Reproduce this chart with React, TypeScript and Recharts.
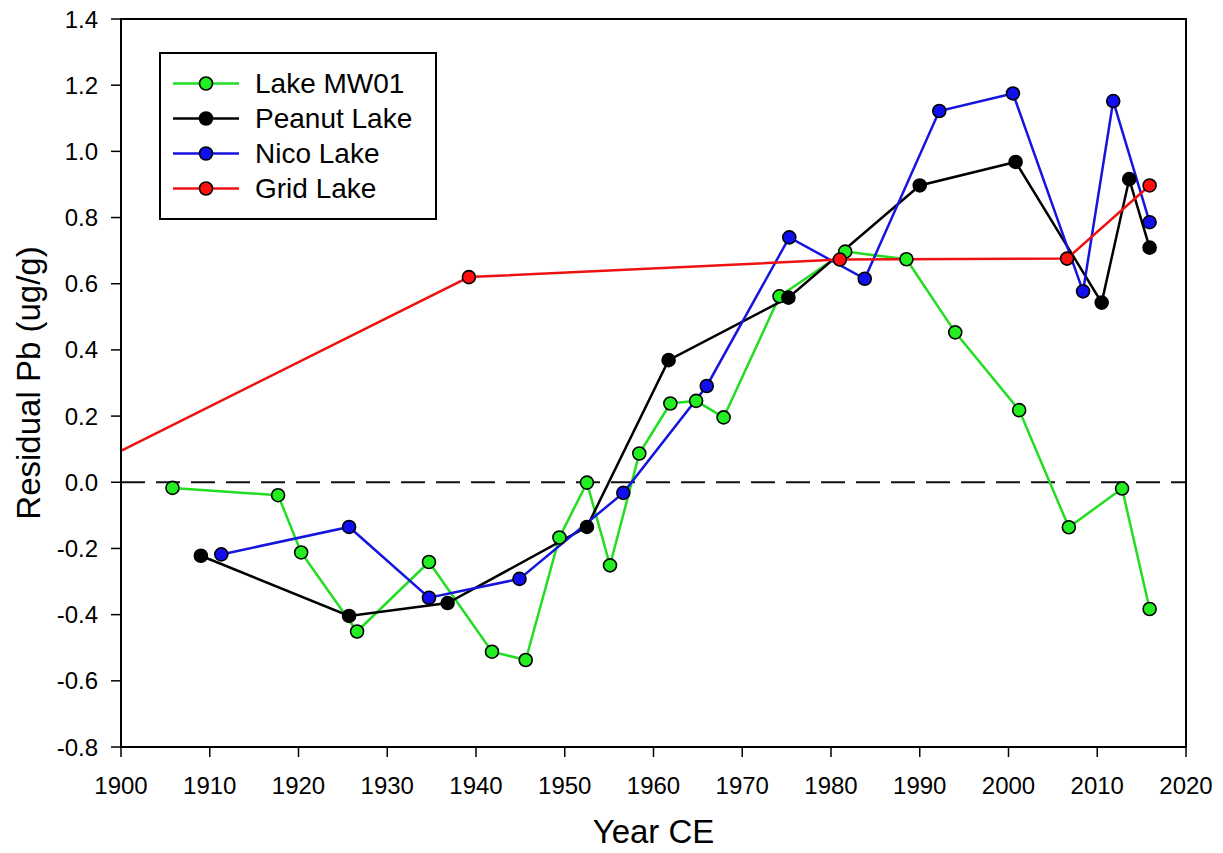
import React from 'react';
import { LineChart, Line, XAxis, YAxis, ReferenceLine, ReferenceArea, Legend, Label } from 'recharts';

const mw01Years = [1905.8, 1917.7, 1920.3, 1926.6, 1934.7, 1941.8, 1945.6, 1949.4, 1952.5, 1955.1, 1958.4, 1961.9, 1964.8, 1967.9, 1974.2, 1981.6, 1988.5, 1994.0, 2001.2, 2006.8, 2012.8, 2015.9];
const mw01Values = [-0.017, -0.039, -0.212, -0.451, -0.241, -0.512, -0.537, -0.167, -0.001, -0.251, 0.087, 0.238, 0.246, 0.196, 0.562, 0.697, 0.674, 0.453, 0.218, -0.136, -0.019, -0.383];

const peanutYears = [1909.0, 1925.7, 1936.8, 1952.5, 1961.7, 1975.2, 1990.0, 2000.8, 2010.5, 2013.6, 2015.9];
const peanutValues = [-0.222, -0.404, -0.365, -0.135, 0.369, 0.558, 0.897, 0.968, 0.543, 0.916, 0.709];

const nicoYears = [1911.3, 1925.7, 1934.7, 1944.9, 1956.6, 1966.0, 1975.3, 1983.8, 1992.2, 2000.5, 2008.4, 2011.8, 2015.9];
const nicoValues = [-0.218, -0.135, -0.349, -0.292, -0.032, 0.291, 0.740, 0.615, 1.122, 1.175, 0.577, 1.152, 0.786];

const gridYears = [1900, 1939.2, 1981.0, 2006.6, 2015.9];
const gridValues = [0.095, 0.62, 0.673, 0.676, 0.897];

const xTicks = [1900, 1910, 1920, 1930, 1940, 1950, 1960, 1970, 1980, 1990, 2000, 2010, 2020];
const yTicks = [-0.8, -0.6, -0.4, -0.2, 0.0, 0.2, 0.4, 0.6, 0.8, 1.0, 1.2, 1.4];

const seriesNames = ['Lake MW01', 'Peanut Lake', 'Nico Lake', 'Grid Lake'];
const lineColors = ['#22dd22', '#000000', '#1515dd', '#ee1111'];
const markerColors = ['#22ee22', '#000000', '#1010ee', '#ff1010'];

const toPoints = (years: number[], values: number[]) => years.map((year, i) => ({ year, value: values[i] }));

const seriesData = [
  toPoints(mw01Years, mw01Values),
  toPoints(peanutYears, peanutValues),
  toPoints(nicoYears, nicoValues),
  toPoints(gridYears, gridValues),
];

const FONT = '"Liberation Sans", Arial, sans-serif';

const makeDot = (fill: string, skipFirst: boolean) => (props: any) => {
  const { cx, cy, index } = props;
  if (skipFirst && index === 0) return <g key={`skip-${index}`} />;
  return <circle key={`dot-${index}`} cx={cx} cy={cy} r={6.5} fill={fill} stroke="#000" strokeWidth={1.6} />;
};

const renderLegend = () => (
  <div
    style={{
      width: 278,
      height: 168,
      boxSizing: 'border-box',
      border: '2px solid #000',
      background: '#fff',
      paddingTop: 12,
      fontFamily: FONT,
    }}
  >
    {seriesNames.map((name, i) => (
      <div key={name} style={{ display: 'flex', alignItems: 'center', height: 35 }}>
        <svg width={94} height={35} style={{ display: 'block' }}>
          <line x1={12} x2={78} y1={17.5} y2={17.5} stroke={lineColors[i]} strokeWidth={2.5} />
          <circle cx={45} cy={17.5} r={6.5} fill={markerColors[i]} stroke="#000" strokeWidth={1.6} />
        </svg>
        <span style={{ fontSize: 28, lineHeight: '35px', color: '#000' }}>{name}</span>
      </div>
    ))}
  </div>
);

export default function App() {
  return (
    <div style={{ width: 1207, height: 853, marginTop: -8, marginBottom: -8, background: '#fff' }}>
      <LineChart width={1207} height={853} margin={{ top: 19, right: 29, bottom: 0, left: 0 }}>
        <XAxis
          dataKey="year"
          type="number"
          domain={[1900, 2020]}
          ticks={xTicks}
          interval={0}
          height={106}
          tickSize={10}
          tickMargin={20}
          axisLine={{ stroke: '#000', strokeWidth: 2 }}
          tickLine={{ stroke: '#000', strokeWidth: 1.5 }}
          tick={{ fill: '#000', fontSize: 24, fontFamily: FONT }}
        >
          <Label
            content={(props: any) => {
              const vb = props.viewBox;
              return (
                <text x={vb.x + vb.width / 2} y={843} textAnchor="middle" fontSize={33} fontFamily={FONT} fill="#000">
                  Year CE
                </text>
              );
            }}
          />
        </XAxis>
        <YAxis
          type="number"
          domain={[-0.8, 1.4]}
          ticks={yTicks}
          interval={0}
          width={113}
          tickSize={10}
          tickMargin={13}
          allowDecimals
          tickFormatter={(v: number) => v.toFixed(1)}
          axisLine={{ stroke: '#000', strokeWidth: 2 }}
          tickLine={{ stroke: '#000', strokeWidth: 1.5 }}
          tick={{ fill: '#000', fontSize: 24, fontFamily: FONT }}
        >
          <Label
            content={(props: any) => {
              const vb = props.viewBox;
              const cy = vb.y + vb.height / 2;
              return (
                <text x={32} y={cy} transform={`rotate(-90 32 ${cy})`} textAnchor="middle" fontSize={33} fontFamily={FONT} fill="#000">
                  Residual Pb (ug/g)
                </text>
              );
            }}
          />
        </YAxis>
        <ReferenceArea x1={1900} x2={2020} y1={-0.8} y2={1.4} fill="none" fillOpacity={0} stroke="#000" strokeWidth={2} />
        <ReferenceLine y={0} stroke="#111" strokeWidth={2} strokeDasharray="24 11" />
        {seriesNames.map((name, i) => (
          <Line
            key={name}
            name={name}
            data={seriesData[i]}
            dataKey="value"
            type="linear"
            stroke={lineColors[i]}
            strokeWidth={2.5}
            dot={makeDot(markerColors[i], i === 3)}
            activeDot={false}
            isAnimationActive={false}
          />
        ))}
        <Legend
          layout="vertical"
          align="center"
          verticalAlign="middle"
          content={renderLegend}
          wrapperStyle={{ left: 151, top: 52, width: 278, height: 168 }}
        />
      </LineChart>
    </div>
  );
}
